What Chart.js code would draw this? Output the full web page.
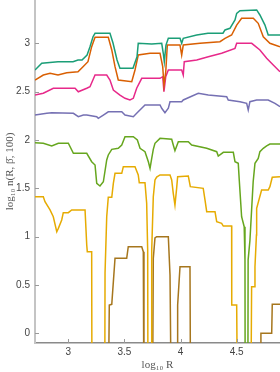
<!DOCTYPE html>
<html lang="en">
<head>
    <meta charset="UTF-8">
    <title>log10 n(R) chart</title>
    <script src="https://cdn.jsdelivr.net/npm/chart.js"></script>
    <style>
        html, body { margin: 0; padding: 0; background: #fff; }
        #wrap { width: 280px; height: 372px; }
    </style>
</head>
<body>
    <div id="wrap"><canvas id="nChart"></canvas></div>

    <script>
        // [log10 R, log10 n] pairs; -1 means the curve drops out of view
        const teal = [[2.703,2.724],[2.763,2.793],[2.908,2.810],[3.042,2.810],[3.086,2.827],[3.122,2.827],[3.167,2.879],[3.193,2.965],[3.220,3.068],[3.238,3.104],[3.371,3.104],[3.398,3.003],[3.434,2.827],[3.460,2.741],[3.576,2.741],[3.612,2.861],[3.623,3.000],[3.743,2.993],[3.832,3.000],[3.846,2.897],[3.855,2.810],[3.870,2.982],[3.891,3.052],[3.995,3.052],[4.010,3.000],[4.024,3.052],[4.144,3.086],[4.244,3.104],[4.378,3.104],[4.396,3.138],[4.440,3.155],[4.485,3.241],[4.500,3.310],[4.529,3.337],[4.678,3.345],[4.707,3.293],[4.752,3.189],[4.781,3.086],[4.886,3.086]];
        const orange = [[2.703,2.620],[2.777,2.672],[2.837,2.690],[2.908,2.672],[2.986,2.696],[3.086,2.706],[3.131,2.758],[3.175,2.810],[3.208,2.965],[3.238,3.062],[3.356,3.062],[3.387,2.931],[3.416,2.758],[3.445,2.620],[3.565,2.603],[3.594,2.724],[3.623,2.879],[3.728,2.897],[3.817,2.897],[3.841,2.758],[3.852,2.569],[3.868,2.706],[3.882,2.982],[3.995,2.982],[4.010,2.879],[4.024,2.982],[4.173,3.000],[4.351,3.017],[4.396,3.052],[4.455,3.086],[4.500,3.189],[4.544,3.259],[4.648,3.259],[4.692,3.207],[4.737,3.068],[4.796,3.000],[4.886,2.965]];
        const pink = [[2.703,2.465],[2.777,2.483],[2.866,2.535],[3.060,2.535],[3.089,2.499],[3.164,2.535],[3.193,2.551],[3.238,2.672],[3.342,2.672],[3.371,2.620],[3.401,2.517],[3.460,2.465],[3.505,2.431],[3.549,2.414],[3.579,2.431],[3.609,2.535],[3.654,2.638],[3.817,2.638],[3.841,2.655],[3.852,2.499],[3.868,2.655],[3.891,2.724],[4.010,2.724],[4.024,2.672],[4.033,2.810],[4.144,2.827],[4.247,2.861],[4.366,2.897],[4.485,2.948],[4.500,3.000],[4.634,3.000],[4.707,2.931],[4.767,2.845],[4.826,2.776],[4.886,2.706]];
        const purple = [[2.703,2.258],[2.808,2.276],[2.852,2.282],[3.045,2.276],[3.089,2.241],[3.134,2.258],[3.164,2.258],[3.253,2.241],[3.267,2.224],[3.312,2.258],[3.356,2.292],[3.476,2.292],[3.505,2.258],[3.579,2.241],[3.609,2.276],[3.683,2.362],[3.817,2.362],[3.832,2.328],[3.861,2.282],[3.891,2.328],[3.906,2.396],[4.010,2.396],[4.024,2.414],[4.158,2.483],[4.247,2.465],[4.411,2.448],[4.425,2.414],[4.529,2.396],[4.589,2.379],[4.603,2.310],[4.618,2.396],[4.678,2.414],[4.781,2.414],[4.841,2.379],[4.886,2.344]];
        const lime = [[2.703,1.972],[2.777,1.966],[2.852,1.938],[2.911,1.966],[3.000,1.966],[3.045,1.862],[3.164,1.862],[3.208,1.775],[3.238,1.741],[3.253,1.552],[3.282,1.524],[3.312,1.568],[3.342,1.793],[3.356,1.845],[3.387,1.903],[3.445,1.914],[3.476,1.948],[3.505,2.034],[3.579,2.034],[3.615,2.000],[3.639,1.914],[3.683,1.879],[3.713,1.775],[3.728,1.707],[3.743,1.810],[3.757,1.903],[3.772,1.966],[3.817,2.017],[3.921,2.007],[3.935,1.948],[3.950,1.889],[3.980,1.982],[4.069,1.982],[4.099,1.948],[4.233,1.914],[4.322,1.879],[4.336,1.834],[4.381,1.872],[4.470,1.872],[4.485,1.775],[4.514,1.759],[4.523,1.586],[4.544,1.206],[4.567,1.103],[4.574,0.760],[4.576,-1],[4.599,-1],[4.602,0.760],[4.618,0.960],[4.633,1.276],[4.647,1.568],[4.663,1.759],[4.692,1.810],[4.707,1.879],[4.737,1.914],[4.767,1.938],[4.796,1.958],[4.886,1.958]];
        const gold = [[2.703,1.413],[2.777,1.413],[2.792,1.361],[2.837,1.276],[2.866,1.206],[2.897,1.051],[2.911,1.086],[2.941,1.172],[2.955,1.248],[3.000,1.248],[3.030,1.276],[3.149,1.276],[3.164,0.913],[3.169,0.844],[3.208,0.844],[3.211,-1],[3.324,-1],[3.327,0.624],[3.342,1.206],[3.356,1.407],[3.387,1.407],[3.401,1.552],[3.416,1.655],[3.476,1.655],[3.490,1.724],[3.594,1.724],[3.623,1.638],[3.632,1.558],[3.683,1.558],[3.698,1.345],[3.707,0.862],[3.710,-1],[3.740,-1],[3.743,0.862],[3.757,1.413],[3.772,1.586],[3.787,1.617],[3.817,1.638],[3.906,1.638],[3.921,1.586],[3.935,1.448],[3.950,1.327],[3.965,1.500],[3.974,1.620],[4.069,1.627],[4.087,1.517],[4.202,1.500],[4.218,1.379],[4.233,1.258],[4.307,1.258],[4.322,1.155],[4.366,1.138],[4.381,1.110],[4.455,1.110],[4.456,0.293],[4.500,0.293],[4.509,-1],[4.625,-1],[4.633,0.482],[4.656,0.482],[4.663,0.689],[4.676,1.017],[4.678,1.293],[4.722,1.482],[4.781,1.482],[4.796,1.517],[4.817,1.614],[4.886,1.620]];
        const brown = [[3.354,-1],[3.365,0.293],[3.387,0.300],[3.416,0.776],[3.520,0.776],[3.534,0.896],[3.654,0.896],[3.668,0.844],[3.674,-1],[3.749,-1],[3.757,0.776],[3.772,0.986],[3.787,0.999],[3.891,0.999],[3.906,0.603],[3.919,-1],[3.970,-1],[3.974,0.293],[3.995,0.689],[4.084,0.689],[4.090,-1],[4.713,-1],[4.716,0.000],[4.812,0.000],[4.817,0.300],[4.886,0.300]];

        const xTicks = [3, 3.5, 4, 4.5];
        const yTicks = [0, 0.5, 1, 1.5, 2, 2.5, 3];

        const colors = ["#1b9e77", "#d95f02", "#e7298a", "#7570b3", "#66a61e", "#e6ab02", "#a6761d"];
        const allSeries = [teal, orange, pink, purple, lime, gold, brown];

        // small inward tick marks on both axes
        const innerTicks = {
            id: "innerTicks",
            afterDraw(chart) {
                const { ctx, chartArea, scales } = chart;
                ctx.save();
                ctx.strokeStyle = "#9a9a9a";
                ctx.lineWidth = 1;
                ctx.beginPath();
                yTicks.forEach(v => {
                    const y = Math.round(scales.y.getPixelForValue(v)) + 0.5;
                    ctx.moveTo(chartArea.left, y);
                    ctx.lineTo(chartArea.left + 4, y);
                });
                xTicks.forEach(v => {
                    const x = Math.round(scales.x.getPixelForValue(v)) + 0.5;
                    ctx.moveTo(x, chartArea.bottom);
                    ctx.lineTo(x, chartArea.bottom - 4);
                });
                ctx.stroke();
                ctx.restore();
            }
        };

        const ctx = document.getElementById("nChart").getContext("2d");
        new Chart(ctx, {
            type: "line",
            data: {
                datasets: allSeries.map((s, i) => ({
                    data: s.map(p => ({ x: p[0], y: p[1] })),
                    borderColor: colors[i],
                    borderWidth: 1.5,
                    pointRadius: 0,
                    tension: 0,
                    fill: false
                }))
            },
            options: {
                responsive: true,
                maintainAspectRatio: false,
                animation: false,
                layout: { padding: 0 },
                plugins: { legend: { display: false }, tooltip: { enabled: false } },
                scales: {
                    x: {
                        type: "linear",
                        min: 2.703,
                        max: 4.886,
                        afterBuildTicks: s => { s.ticks = xTicks.map(v => ({ value: v })); },
                        afterFit: s => { s.height = 29; s.paddingLeft = 0; s.paddingRight = 0; },
                        grid: { display: false, drawTicks: false },
                        border: { color: "#8a8a8a", width: 1.5 },
                        ticks: {
                            padding: 3,
                            color: "#444",
                            font: { family: "Liberation Sans", size: 10 },
                            maxRotation: 0,
                            callback: v => String(v)
                        },
                        title: {
                            display: true,
                            text: "log\u2081\u2080 R",
                            color: "#555",
                            font: { family: "Liberation Serif", size: 11 },
                            padding: { top: 0, bottom: 0 }
                        }
                    },
                    y: {
                        min: -0.1,
                        max: 3.448,
                        afterBuildTicks: s => { s.ticks = yTicks.map(v => ({ value: v })); },
                        afterFit: s => { s.width = 35; s.paddingTop = 0; s.paddingBottom = 0; },
                        grid: { display: false, drawTicks: false },
                        border: { color: "#c4c4c4", width: 2 },
                        ticks: {
                            padding: 5,
                            color: "#444",
                            font: { family: "Liberation Sans", size: 10 },
                            callback: v => String(v)
                        },
                        title: {
                            display: true,
                            text: "log\u2081\u2080 n(R, \u03b2\u0304, 100)",
                            color: "#555",
                            font: { family: "Liberation Serif", size: 11 },
                            padding: { top: 3.4, bottom: 0 }
                        }
                    }
                }
            },
            plugins: [innerTicks]
        });
    </script>
</body>
</html>
